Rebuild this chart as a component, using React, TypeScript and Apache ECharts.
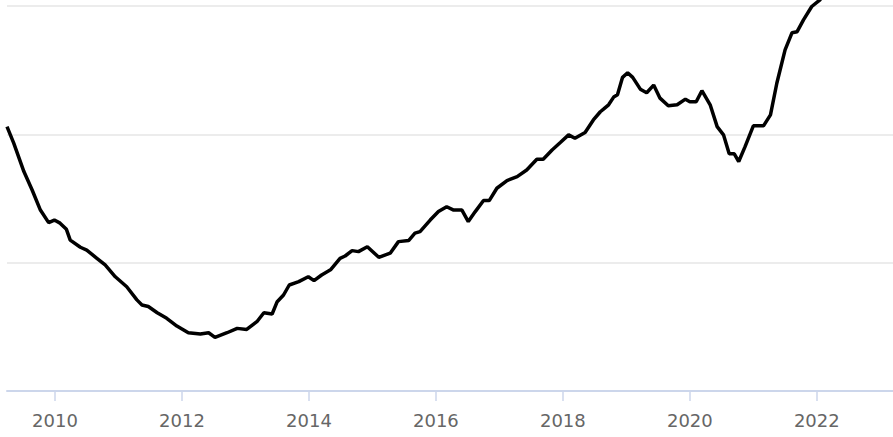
import React, { useEffect, useRef } from "react";
import * as echarts from "echarts";

// Decimal years of the traced points
const years: number[] = [
  2009.244, 2009.35, 2009.51, 2009.64, 2009.77, 2009.9, 2009.99, 2010.08, 2010.18, 2010.24,
  2010.4, 2010.5, 2010.66, 2010.79, 2010.95, 2011.13, 2011.29, 2011.37, 2011.47, 2011.61,
  2011.76, 2011.92, 2012.1, 2012.29, 2012.42, 2012.52, 2012.71, 2012.87, 2013.02, 2013.18,
  2013.29, 2013.42, 2013.5, 2013.6, 2013.69, 2013.84, 2013.99, 2014.08, 2014.2, 2014.34,
  2014.49, 2014.57, 2014.68, 2014.78, 2014.92, 2015.1, 2015.28, 2015.41, 2015.57, 2015.67,
  2015.75, 2015.91, 2016.04, 2016.17, 2016.28, 2016.41, 2016.51, 2016.62, 2016.75, 2016.84,
  2016.96, 2017.12, 2017.28, 2017.43, 2017.59, 2017.69, 2017.83, 2017.96, 2018.09, 2018.19,
  2018.35, 2018.48, 2018.59, 2018.64, 2018.72, 2018.8, 2018.86, 2018.94, 2019.02, 2019.1,
  2019.22, 2019.32, 2019.43, 2019.53, 2019.66, 2019.8, 2019.93, 2020.0, 2020.1, 2020.19,
  2020.32, 2020.43, 2020.53, 2020.62, 2020.7, 2020.77, 2020.87, 2021.0, 2021.16, 2021.27,
  2021.37, 2021.5, 2021.61, 2021.69, 2021.79, 2021.92, 2022.05, 2022.2,
];

// Index values (arbitrary units)
const values: number[] = [
  203.0, 196.6, 185.5, 178.3, 170.5, 165.6, 166.6, 165.4, 163.0, 158.8,
  156.0, 154.9, 151.7, 149.1, 144.5, 140.6, 135.5, 133.5, 132.9, 130.5,
  128.3, 125.3, 122.7, 122.2, 122.7, 120.9, 122.7, 124.4, 124.0, 127.0,
  130.5, 130.0, 134.8, 137.4, 141.3, 142.6, 144.5, 143.0, 145.2, 147.2,
  151.7, 152.6, 154.7, 154.3, 156.2, 152.1, 153.7, 158.2, 158.6, 161.5,
  162.1, 166.6, 169.9, 171.8, 170.5, 170.5, 166.0, 169.9, 174.2, 174.2,
  179.0, 182.0, 183.5, 186.1, 190.3, 190.3, 193.9, 196.8, 199.8, 198.5,
  200.7, 205.6, 208.8, 209.8, 211.5, 214.5, 215.4, 222.2, 224.0, 222.2,
  217.6, 216.2, 219.2, 214.1, 211.1, 211.5, 213.7, 212.7, 212.7, 217.0,
  211.5, 203.0, 199.8, 192.4, 192.4, 189.4, 195.2, 203.3, 203.3, 207.6,
  219.9, 232.9, 239.6, 240.0, 244.6, 249.8, 252.4, 258.0,
];

const tickYears: number[] = [2010, 2012, 2014, 2016, 2018, 2020, 2022];

export default function App() {
  const ref = useRef<HTMLDivElement>(null);

  useEffect(() => {
    if (!ref.current) return;
    const chart = echarts.init(ref.current, undefined, { renderer: "svg" });
    const data = years.map((y, i) => [y, values[i]]);
    chart.setOption({
      animation: false,
      backgroundColor: "#ffffff",
      grid: { left: 7, right: 0, top: 6, bottom: 46, containLabel: false },
      xAxis: {
        type: "value",
        min: 2009.244,
        max: 2023.2,
        splitLine: { show: false },
        axisLine: { show: true, lineStyle: { color: "#ccd6eb", width: 2 } },
        axisTick: {
          show: true,
          customValues: tickYears,
          length: 10,
          lineStyle: { color: "#ccd6eb", width: 1.5 },
        },
        axisLabel: {
          customValues: tickYears,
          formatter: (v: number) => String(Math.round(v)),
          color: "#666666",
          fontSize: 18,
          fontFamily: "DejaVu Sans",
          margin: 20,
        },
      },
      yAxis: {
        type: "value",
        min: 100,
        max: 250,
        interval: 50,
        axisLine: { show: false },
        axisTick: { show: false },
        axisLabel: { show: false },
        splitLine: { show: true, lineStyle: { color: "#e6e6e6", width: 1.5 } },
      },
      series: [
        {
          type: "line",
          data,
          showSymbol: false,
          clip: false,
          lineStyle: { color: "#000000", width: 3.5 },
          itemStyle: { color: "#000000" },
        },
      ],
    });
    return () => chart.dispose();
  }, []);

  return (
    <div
      ref={ref}
      style={{ position: "absolute", left: 0, top: 0, width: 893, height: 437 }}
    />
  );
}
